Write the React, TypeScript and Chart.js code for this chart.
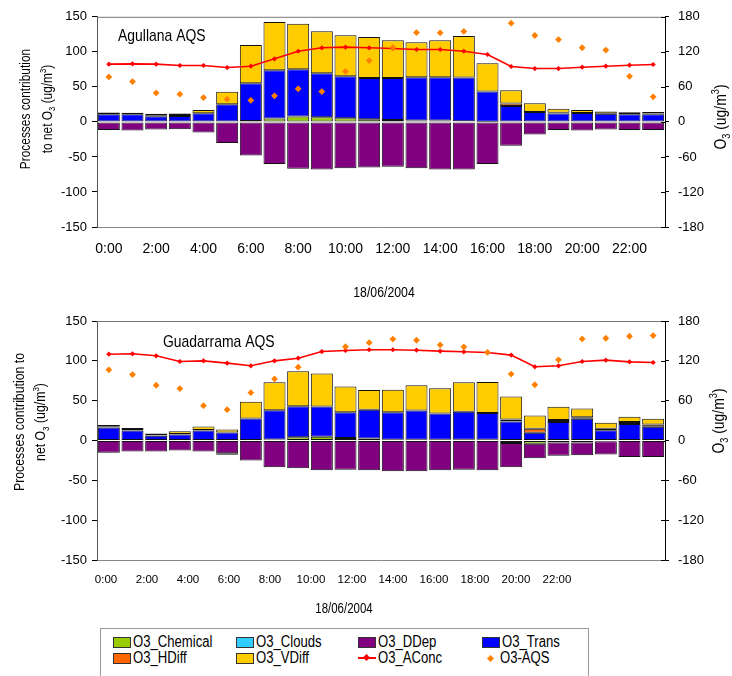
import React, { useEffect, useRef } from 'react';
import { Chart, registerables } from 'chart.js';

Chart.register(...registerables);

const FONT = "'Liberation Sans', Arial, sans-serif";
const NARROW = 0.82; // horizontal squeeze used to mimic a narrow face

// ---------- data ----------
const hours = ['0:00','1:00','2:00','3:00','4:00','5:00','6:00','7:00','8:00','9:00','10:00','11:00',
  '12:00','13:00','14:00','15:00','16:00','17:00','18:00','19:00','20:00','21:00','22:00','23:00'];

// Agullana AQS (top panel)
const agChemical = [0, 0, 0, 0, 0, 0, 1.4, 4.7, 7.6, 6.6, 5.2, 3.8, 2.8, 2, 2, 0.8, 0.3, 0, 0, 0, 0, 0, 0, 0];
const agClouds = [0, 0, 0, 0, 0, 0, 0, 0, 0, 0, 0, 0, 0, 0, 0, 0, 0, 0, 0, 0, 0, 0, 0, 0];
const agDDep = [-11.4, -12.3, -11, -10.5, -15, -30, -48, -60, -67, -68, -66, -65, -64, -66, -68, -68, -60, -34, -18, -11.4, -12.3, -11, -11.4, -11.4];
const agTrans = [11, 11, 8, 8.5, 12.3, 25.2, 53.6, 69, 67.4, 63, 60, 59, 60, 61.7, 61.7, 62.5, 43, 22.8, 14.2, 12, 12.8, 11.5, 11, 11];
const agHDiff = [0, 0, 1.5, 1.5, 0, 0, 0, 0, 0, 0, 0, 0, 0, 0, 0, 0, 0, 3.5, 0, 1, 0, 0, 0, 1];
const agVDiff = [2.4, 2, 2, 2, 4.7, 18, 54.6, 68.8, 65, 59.8, 58.4, 58.4, 53.6, 49.8, 52.7, 59.3, 40.3, 19, 12.3, 5.6, 4.3, 3.3, 2.8, 2];
const agAConc = [98.9, 99.4, 98.9, 96.6, 96.6, 93.1, 95.4, 108, 121, 126.9, 128, 126.9, 125.7, 124, 124, 121, 115.4, 94.9, 91.4, 91.4, 93.7, 95.4, 97.1, 98.3];
const agAQS = [77, 69, 49.7, 47.4, 41.7, 38.9, 37, 44.6, 56.6, 52, 86.3, 105, 127.4, 153, 152.6, 155, null, 169, 148, 141, 127, 123, 78, 43];

// Guadarrama AQS (bottom panel)
const guChemical = [0, 0, 0, 0, 0, 0, 0, 1.3, 4.2, 4.6, 3, 2.5, 1, 1, 1, 0.8, 0.8, -3, -4, -2.5, -2.5, -1, 0, 0];
const guClouds = [0, 0, 0, 0, 0, 0, 0, 0, 0, 0, 0, 0, 0, 0, 0, 0, 0, 0, 0, 0, 0, 0, 0, 0];
const guDDep = [-15.5, -13.9, -13.9, -12.6, -13.9, -16, -25.2, -33.6, -34.9, -37.4, -36.6, -37.4, -38.7, -38.7, -37.4, -36.6, -37.4, -30.6, -18.3, -16.5, -16, -16.6, -20.6, -20.6];
const guTrans = [16.4, 12.6, 5.9, 7.6, 12.6, 10.1, 27.7, 36.6, 38.7, 38.2, 32.4, 36.1, 34.5, 36.6, 32.8, 35.3, 33.6, 24, 9.7, 23.1, 27.3, 13, 20.6, 17.2];
const guHDiff = [1, 0.5, 0.5, 0.5, 0.5, -2, 0, 0, 0, 0, 0, 0, 0, 0, 0, 0, 0, 2.5, 5, 2.5, 2, 1.7, 2.5, 3];
const guVDiff = [2, 2.5, 2.5, 3.4, 4.6, 3.8, 21, 35.3, 44.1, 41.2, 32.4, 24.8, 28.2, 31.9, 31.9, 37, 39, 28.6, 16.8, 16.8, 10.9, 7.6, 6.7, 7.1];
const guAConc = [130, 130.6, 127.6, 119, 120, 116.5, 112.5, 120, 124, 134, 135.6, 136.7, 136.7, 136, 134.6, 133.6, 132.6, 128.6, 111, 112.5, 119, 121, 118.5, 117.5];
const guAQS = [106.4, 99.3, 83.2, 78.2, 52.4, 46.4, 72.1, 92.8, 110.4, null, 141.2, 147.3, 152.8, 151, 144, 141, 132.6, 100, 84, 121.5, 153, 154, 157, 158];

const bottomTickHours = [0, 2, 4, 6, 8, 10, 12, 14, 16, 18, 20, 22];
const bottomTickLabels = ['0:00','2:00','4:00','6:00','8:00','10:00','12:00','14:00','16:00','18:00','20:00','22:00'];

const leftTicks = { min: -150, max: 150, step: 50 };
const rightTicks = { min: -180, max: 180, step: 60 };

// ---------- colours ----------
const C = {
  chem: '#99CC00', clouds: '#33CCFF', ddep: '#800080', trans: '#0000FF',
  hdiff: '#FF6600', vdiff: '#FFCC00', aconc: '#FF0000', aqs: '#FF8000',
};

type Part = { t: string; sub?: boolean; sup?: boolean };

function drawRich(ctx: CanvasRenderingContext2D, parts: Part[], x: number, y: number, rot: number, size: number) {
  ctx.save();
  ctx.translate(x, y);
  ctx.rotate(rot);
  ctx.scale(NARROW, 1);
  ctx.fillStyle = '#000';
  ctx.textBaseline = 'alphabetic';
  ctx.textAlign = 'left';
  let total = 0;
  const ws = parts.map((p) => {
    const s = p.sub || p.sup ? size * 0.65 : size;
    ctx.font = `${s}px ${FONT}`;
    const w = ctx.measureText(p.t).width;
    total += w;
    return w;
  });
  let cx = -total / 2;
  parts.forEach((p, i) => {
    const s = p.sub || p.sup ? size * 0.65 : size;
    ctx.font = `${s}px ${FONT}`;
    const dy = size * 0.36 + (p.sub ? size * 0.22 : p.sup ? -size * 0.42 : 0);
    ctx.fillText(p.t, cx, dy);
    cx += ws[i];
  });
  ctx.restore();
}

const decorPlugin = {
  id: 'decor',
  afterDraw(chart: any, _args: any, opts: any) {
    const ctx: CanvasRenderingContext2D = chart.ctx;
    const { left, right, top } = chart.chartArea;
    ctx.save();
    ctx.strokeStyle = '#777';
    ctx.lineWidth = 1;
    ctx.beginPath();
    ctx.moveTo(left, top + 0.5);
    ctx.lineTo(right, top + 0.5);
    ctx.stroke();
    const y1 = chart.scales.y1;
    ctx.strokeStyle = '#000';
    ctx.beginPath();
    y1.ticks.forEach((t: any) => {
      const py = Math.round(y1.getPixelForValue(t.value)) + 0.5;
      ctx.moveTo(right - 4, py);
      ctx.lineTo(right, py);
    });
    ctx.stroke();
    ctx.restore();

    ctx.save();
    ctx.fillStyle = '#000';
    ctx.font = `${opts.title.size}px ${FONT}`;
    ctx.textAlign = 'left';
    ctx.textBaseline = 'middle';
    ctx.translate(opts.title.x, opts.title.y);
    ctx.scale(NARROW, 1);
    ctx.fillText(opts.title.text, 0, 0);
    ctx.restore();

    opts.leftTitle.forEach((l: any) => drawRich(ctx, l.parts, l.x, l.y, -Math.PI / 2, l.size));
    drawRich(ctx, opts.rightTitle.parts, opts.rightTitle.x, opts.rightTitle.y, -Math.PI / 2, opts.rightTitle.size);
    drawRich(ctx, [{ t: opts.xTitle.text }], opts.xTitle.x, opts.xTitle.y, 0, opts.xTitle.size);
  },
};

const O3unit: Part[] = [{ t: 'O' }, { t: '3', sub: true }, { t: ' (ug/m' }, { t: '3', sup: true }, { t: ')' }];

function barSet(label: string, data: number[], color: string) {
  return {
    type: 'bar' as const,
    label,
    data,
    backgroundColor: color,
    borderColor: '#111',
    borderWidth: 1,
    borderSkipped: false,
    yAxisID: 'y',
    order: 2,
    categoryPercentage: 1,
    barPercentage: 0.93,
  };
}

function buildDatasets(chem: number[], clouds: number[], ddep: number[], trans: number[], hdiff: number[], vdiff: number[], conc: number[], aqs: (number | null)[]) {
  return [
    barSet('O3_Chemical', chem, C.chem),
    barSet('O3_Clouds', clouds, C.clouds),
    barSet('O3_DDep', ddep, C.ddep),
    barSet('O3_Trans', trans, C.trans),
    barSet('O3_HDiff', hdiff, C.hdiff),
    barSet('O3_VDiff', vdiff, C.vdiff),
    {
      type: 'line' as const, label: 'O3_AConc', data: conc, yAxisID: 'y1', order: 1,
      borderColor: C.aconc, borderWidth: 1.6, backgroundColor: C.aconc,
      pointStyle: 'rectRot', pointRadius: 2.6, pointBorderWidth: 0, pointBackgroundColor: C.aconc,
      tension: 0,
    },
    {
      type: 'line' as const, label: 'O3-AQS', data: aqs, yAxisID: 'y1', order: 0,
      showLine: false, borderColor: C.aqs, backgroundColor: C.aqs,
      pointStyle: 'rectRot', pointRadius: 3.4, pointBorderWidth: 0, pointBackgroundColor: C.aqs,
    },
  ];
}

function yScales(tickSize: number) {
  return {
    y: {
      stacked: true, min: leftTicks.min, max: leftTicks.max,
      ticks: { stepSize: leftTicks.step, padding: 5, color: '#000', font: { family: FONT, size: tickSize } },
      grid: { drawOnChartArea: false, tickLength: 5, color: '#000' },
      border: { color: '#555', width: 1 },
      afterFit: (s: any) => { s.width = 97; },
    },
    y1: {
      position: 'right' as const, min: rightTicks.min, max: rightTicks.max,
      ticks: { stepSize: rightTicks.step, padding: 9, color: '#000', font: { family: FONT, size: tickSize } },
      grid: { drawOnChartArea: false, tickLength: 4, color: '#000' },
      border: { color: '#000', width: 1 },
      afterFit: (s: any) => { s.width = 67; },
    },
  };
}

function topConfig(): any {
  return {
    data: { labels: hours, datasets: buildDatasets(agChemical, agClouds, agDDep, agTrans, agHDiff, agVDiff, agAConc, agAQS) },
    options: {
      responsive: false, animation: false,
      layout: { padding: { top: 16, left: 0, right: 0, bottom: 0 } },
      plugins: {
        legend: { display: false }, tooltip: { enabled: false },
        decor: {
          title: { text: 'Agullana AQS', x: 118, y: 36, size: 17 },
          leftTitle: [
            { parts: [{ t: 'Processes contribution' }], x: 25, y: 109, size: 14.5 },
            { parts: [{ t: 'to net ' }, ...O3unit], x: 47, y: 109, size: 14.5 },
          ],
          rightTitle: { parts: O3unit, x: 720, y: 117, size: 17 },
          xTitle: { text: '18/06/2004', x: 384, y: 292, size: 15 },
        },
      },
      scales: {
        x: {
          type: 'category', stacked: true, offset: true,
          grid: { display: false, drawTicks: false },
          border: { display: true, color: '#888' },
          ticks: {
            autoSkip: false, maxRotation: 0, padding: 14, color: '#000',
            font: { family: FONT, size: 14 },
            callback: (_v: any, i: number) => (i % 2 === 0 ? hours[i] : ''),
          },
          afterFit: (s: any) => { s.height = 73; },
        },
        ...yScales(13),
      },
    },
    plugins: [decorPlugin],
  };
}

function bottomConfig(): any {
  return {
    data: { labels: hours, datasets: buildDatasets(guChemical, guClouds, guDDep, guTrans, guHDiff, guVDiff, guAConc, guAQS) },
    options: {
      responsive: false, animation: false,
      layout: { padding: { top: 21, left: 0, right: 0, bottom: 0 } },
      plugins: {
        legend: { display: false }, tooltip: { enabled: false },
        decor: {
          title: { text: 'Guadarrama AQS', x: 163, y: 42, size: 17 },
          leftTitle: [
            { parts: [{ t: 'Processes contribution to' }], x: 19, y: 122, size: 15 },
            { parts: [{ t: 'net ' }, ...O3unit], x: 40, y: 122, size: 15 },
          ],
          rightTitle: { parts: O3unit, x: 718, y: 121, size: 17 },
          xTitle: { text: '18/06/2004', x: 344, y: 308, size: 14 },
        },
      },
      scales: {
        x: { type: 'category', stacked: true, offset: true, display: false },
        x2: {
          type: 'linear', position: 'bottom', offset: false, bounds: 'data', min: -0.44, max: 27.27,
          afterBuildTicks: (s: any) => { s.ticks = bottomTickHours.map((v) => ({ value: v })); },
          grid: { display: false, drawTicks: false, offset: false },
          border: { display: true, color: '#888' },
          ticks: {
            autoSkip: false, maxRotation: 0, padding: 13, color: '#000',
            font: { family: FONT, size: 11.5 },
            callback: (v: number) => {
              const k = bottomTickHours.indexOf(v);
              return k >= 0 ? bottomTickLabels[k] : '';
            },
          },
          afterFit: (s: any) => { s.height = 60; },
        },
        ...yScales(13),
      },
    },
    plugins: [decorPlugin],
  };
}

function ChartCanvas({ make, top, height }: { make: () => any; top: number; height: number }) {
  const ref = useRef<HTMLCanvasElement | null>(null);
  useEffect(() => {
    if (!ref.current) return;
    const cfg = make();
    const chart = new Chart(ref.current, { type: 'bar', ...cfg });
    return () => chart.destroy();
  }, [make]);
  return <canvas ref={ref} width={732} height={height} style={{ position: 'absolute', left: 0, top, width: 732, height }} />;
}

const legendItems = [
  { label: 'O3_Chemical', kind: 'box', color: C.chem, col: 0, row: 0 },
  { label: 'O3_Clouds', kind: 'box', color: C.clouds, col: 1, row: 0 },
  { label: 'O3_DDep', kind: 'box', color: C.ddep, col: 2, row: 0 },
  { label: 'O3_Trans', kind: 'box', color: C.trans, col: 3, row: 0 },
  { label: 'O3_HDiff', kind: 'box', color: C.hdiff, col: 0, row: 1 },
  { label: 'O3_VDiff', kind: 'box', color: C.vdiff, col: 1, row: 1 },
  { label: 'O3_AConc', kind: 'line', color: C.aconc, col: 2, row: 1 },
  { label: 'O3-AQS', kind: 'dot', color: C.aqs, col: 3, row: 1 },
];
const colX = [113, 236, 358, 482];
const rowY = [642, 658];

function Legend() {
  return (
    <>
      <div style={{ position: 'absolute', left: 100, top: 628, width: 489, height: 70, border: '1px solid #999', boxSizing: 'border-box' }} />
      {legendItems.map((it) => {
        const x = colX[it.col];
        const y = rowY[it.row];
        let marker: React.ReactNode = null;
        let textX = x + 20;
        if (it.kind === 'box') {
          marker = <div style={{ position: 'absolute', left: x, top: y - 5, width: 16, height: 9, background: it.color, border: '1px solid #333' }} />;
        } else if (it.kind === 'line') {
          marker = (
            <>
              <div style={{ position: 'absolute', left: x, top: y - 1, width: 18, height: 2, background: it.color }} />
              <div style={{ position: 'absolute', left: x + 6, top: y - 3, width: 5, height: 5, background: it.color, transform: 'rotate(45deg)' }} />
            </>
          );
        } else {
          marker = <div style={{ position: 'absolute', left: x + 6, top: y - 2.5, width: 5, height: 5, background: it.color, transform: 'rotate(45deg)' }} />;
          textX = x + 18;
        }
        return (
          <React.Fragment key={it.label}>
            {marker}
            <div style={{
              position: 'absolute', left: textX, top: y - 10, height: 20, lineHeight: '20px',
              fontFamily: FONT, fontSize: 16, color: '#000', whiteSpace: 'nowrap',
              transform: `scaleX(${NARROW})`, transformOrigin: 'left center',
            }}>{it.label}</div>
          </React.Fragment>
        );
      })}
    </>
  );
}

export default function App() {
  return (
    <div style={{ position: 'absolute', left: 0, top: 0, width: 732, height: 676, background: '#fff', overflow: 'hidden' }}>
      <ChartCanvas make={topConfig} top={0} height={300} />
      <ChartCanvas make={bottomConfig} top={300} height={320} />
      <Legend />
    </div>
  );
}
